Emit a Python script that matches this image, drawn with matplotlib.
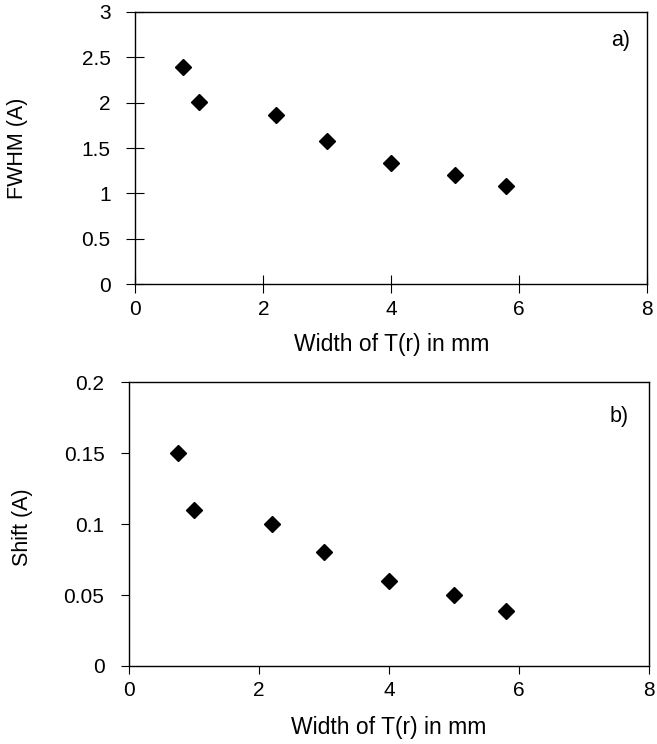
"""FWHM and shift versus width of T(r)"""

import matplotlib

matplotlib.use("Agg")
import matplotlib.pyplot as plt

width_mm = [0.75, 1.0, 2.2, 3.0, 4.0, 5.0, 5.8]
fwhm = [2.39, 2.01, 1.86, 1.58, 1.34, 1.20, 1.08]
shift = [0.150, 0.110, 0.100, 0.080, 0.060, 0.050, 0.039]

xticks = [0, 2, 4, 6, 8]
fwhm_ticks = [0, 0.5, 1, 1.5, 2, 2.5, 3]
shift_ticks = [0, 0.05, 0.1, 0.15, 0.2]

plt.rcParams["font.family"] = ["Liberation Sans", "DejaVu Sans"]

fig = plt.figure(figsize=(6.57, 7.44), dpi=100)
ax1 = fig.add_axes([0.206, 0.618, 0.779, 0.366])
ax2 = fig.add_axes([0.196, 0.105, 0.792, 0.381])


def style(ax, yticks, ylabel, ylab_x, ylab_y, tag, tag_x, tag_y, direction):
    ax.set_xlim(0, 8)
    ax.set_ylim(yticks[0], yticks[-1])
    ax.set_xticks(xticks)
    ax.set_yticks(yticks)
    ax.set_yticklabels([f"{t:g}" for t in yticks])
    length = 12.5 if direction == "inout" else 6
    ax.tick_params(direction=direction, length=length, width=0.8,
                   labelsize=15, color="black")
    ax.tick_params(axis="x", pad=5)
    ax.tick_params(axis="y", pad=11.5)
    for s in ax.spines.values():
        s.set_linewidth(1.0)
    ax.set_xlabel("Width of T(r) in mm", fontsize=16.5)
    ax.xaxis.set_label_coords(0.5, -0.178)
    ax.set_ylabel(ylabel, fontsize=15.5)
    ax.yaxis.set_label_coords(ylab_x, ylab_y)
    ax.text(tag_x, tag_y, tag, transform=ax.transAxes, ha="right",
            va="center", fontsize=15.5)


ax1.plot(width_mm, fwhm, linestyle="none", marker="D", markersize=8,
         color="black", clip_on=False)
style(ax1, fwhm_ticks, "FWHM (A)", -0.209, 0.5, "a)", 0.967, 0.895, "inout")

ax2.plot(width_mm, shift, linestyle="none", marker="D", markersize=8,
         color="black", clip_on=False)
style(ax2, shift_ticks, "Shift (A)", -0.184, 0.49, "b)", 0.961, 0.879, "out")

plt.savefig("out.png", dpi=100)
